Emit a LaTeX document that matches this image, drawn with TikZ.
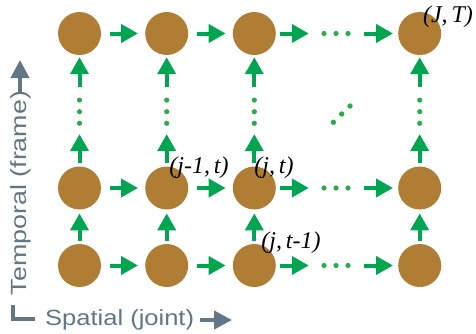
\documentclass[tikz,border=0pt]{standalone}
\usepackage{fontspec}
\usetikzlibrary{arrows.meta}
\newfontfamily\lblfont{Liberation Serif}
\newfontfamily\axfont{Liberation Sans}
\definecolor{jointc}{RGB}{176,125,53}
\definecolor{arrc}{RGB}{0,165,81}
\definecolor{dotc}{RGB}{45,170,74}
\definecolor{axc}{RGB}{99,118,133}
\tikzset{
  jnt/.style={circle,fill=jointc,minimum size=43pt,inner sep=0pt},
  garr/.style={draw=arrc,line width=4pt,-{Triangle[length=17pt,width=18pt]}},
  hgap/.style={shorten <=9pt,shorten >=7pt},
  hdots/.style={minimum width=29pt,minimum height=5pt,inner sep=0pt},
  vdots/.style={minimum width=5pt,minimum height=28.5pt,inner sep=0pt},
  dotf/.style={fill=dotc},
  lbl/.style={inner sep=0pt,font=\lblfont\itshape\fontsize{24}{24}\selectfont},
  axtext/.style={inner sep=0pt,text=axc,font=\axfont\fontsize{22}{22}\selectfont},
  axarr/.style={draw=axc,line width=4pt,-{Triangle[length=18pt,width=18pt]}}
}
\begin{document}
\begin{tikzpicture}[x=1pt,y=-1pt]
\useasboundingbox (0,0) rectangle (476,333);
% joints: a<col><row>, row 1 bottom
\foreach \c/\x in {1/79.5,2/166.7,3/254.3,4/419.7}{
  \foreach \r/\y in {1/265.5,2/188,3/33.5}{
    \node[jnt] (a\c\r) at (\x,\y) {};
  }
}
% horizontal dots
\foreach \r/\y in {1/265.5,2/188,3/33.5}{
  \node[hdots] (hd\r) at (336,\y) {};
  \fill[dotf] (hd\r.center) circle (2.6pt) ++(-12,0) circle (2.6pt) ++(24,0) circle (2.6pt);
}
% vertical dots
\foreach \c/\x in {1/79.5,2/166.7,3/254.3,4/419.7}{
  \node[vdots] (vd\c) at (\x,111.7) {};
  \fill[dotf] (vd\c.center) circle (2.6pt) ++(0,-11.6) circle (2.6pt) ++(0,23.2) circle (2.6pt);
}
% diagonal dots
\node[inner sep=0pt,minimum size=5pt] (dd) at (341.7,114) {};
\fill[dotf] (dd.center) circle (2.7pt) ++(8.3,-8) circle (2.7pt) ++(-16.6,16.3) circle (2.7pt);
% horizontal arrows
\foreach \r in {1,2,3}{
  \draw[garr,hgap] (a1\r) -- (a2\r);
  \draw[garr,hgap] (a2\r) -- (a3\r);
  \draw[garr,shorten <=4pt,shorten >=12.5pt] (a3\r) -- (hd\r);
  \draw[garr,shorten <=13.5pt,shorten >=5pt] (hd\r) -- (a4\r);
}
% vertical arrows
\foreach \c in {1,2,3,4}{
  \draw[garr,shorten <=3pt,shorten >=3.7pt] (a\c1) -- (a\c2);
  \draw[garr,shorten <=3.7pt,shorten >=8pt] (a\c2) -- (vd\c);
  \draw[garr,shorten <=10.5pt,shorten >=2pt] (vd\c) -- (a\c3);
}
% labels
\node[lbl] (lJT) at (448,17) {(J,\,T)};
\node[lbl] (ljm) at (199,167.5) {(j-1,\,t)};
\node[lbl] (ljt) at (274,167.5) {(j,\,t)};
\node[lbl] (ljtm) at (291,243) {(j,\,t-1)};
% axes
\coordinate (vb) at (20,92);
\coordinate (vt) at (20,60);
\coordinate (hb) at (200,320);
\coordinate (ht) at (232,320);
\draw[axarr] (vb) -- (vt);
\draw[axarr] (hb) -- (ht);
\coordinate (c1) at (13,305);
\coordinate (c2) at (13,319);
\coordinate (c3) at (35,319);
\draw[axc,line width=4pt] (c1) -- (c2) -- (c3);
\node[axtext,anchor=base west] (sp) at (45,325) {\scalebox{1.16}[1]{Spatial (joint)}};
\node[axtext,anchor=base,rotate=90] (tp) at (27,193) {\scalebox{1.22}[1]{Temporal (frame)}};
\end{tikzpicture}
\end{document}
